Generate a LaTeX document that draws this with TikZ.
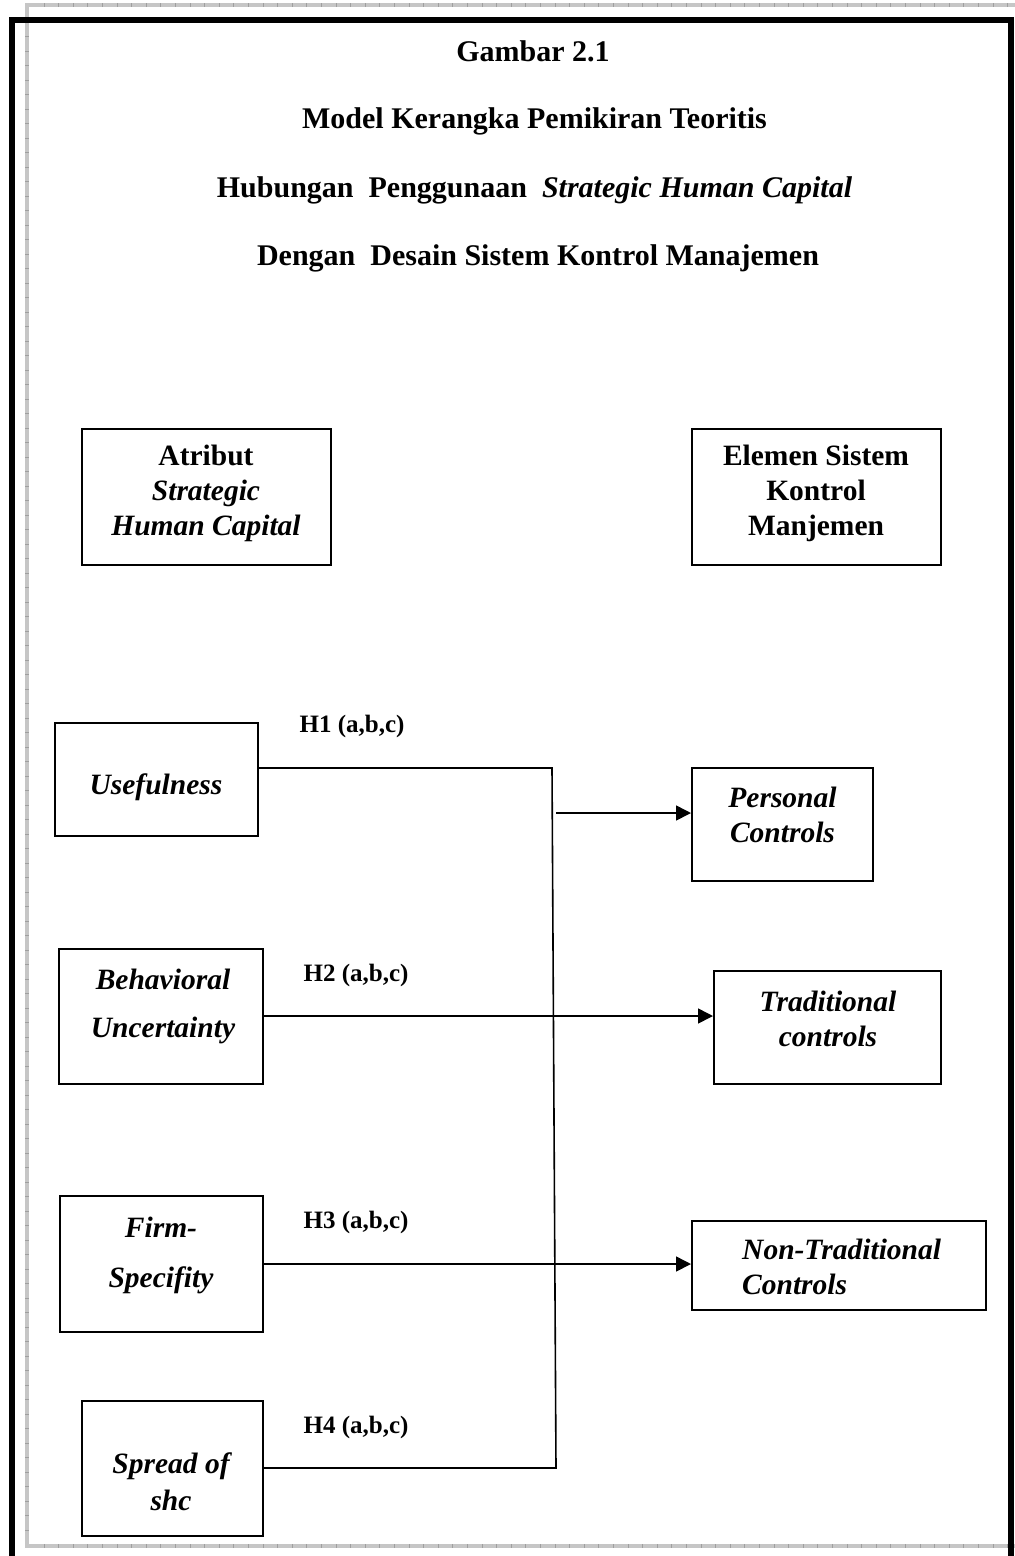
\documentclass[tikz,border=0pt]{standalone}
\usepackage{fontspec}
\setmainfont{Liberation Serif}
\usetikzlibrary{arrows.meta}
\begin{document}
\begin{tikzpicture}[x=1pt,y=-1pt,
  box/.style={draw, line width=2pt, inner sep=0pt},
  lbl/.style={inner sep=0pt, align=center, font=\fontsize{29.5}{35}\selectfont\bfseries},
  ilbl/.style={lbl, font=\fontsize{29.5}{35}\selectfont\bfseries\itshape},
  hyp/.style={inner sep=0pt, font=\fontsize{25}{30}\selectfont\bfseries},
  ttl/.style={inner sep=0pt, font=\fontsize{30}{36}\selectfont\bfseries},
  link/.style={line width=1.6pt},
  arr/.style={link, -{Triangle[length=15pt,width=15pt]}},
  band/.style={fill=gray!45},
  tick/.style={draw=gray!75, line width=0.8pt}]
\useasboundingbox (0,0) rectangle (1015,1556);

% ruler bands
\fill[band] (27,3) rectangle (1015,7);
\foreach \i in {0,...,66} \draw[tick] (44+14.6*\i,3) -- (44+14.6*\i,7);
\fill[band] (25,3) rectangle (29,1548);
\foreach \i in {0,...,104} \draw[tick] (25,22+14.5*\i) -- (29,22+14.5*\i);
\fill[band] (27,1544) rectangle (1015,1548);
\foreach \i in {0,...,66} \draw[tick] (44+14.6*\i,1544) -- (44+14.6*\i,1548);

% outer frame
\draw[line width=6pt, line join=miter] (12,1560) -- (12,20) -- (1010.5,20) -- (1010.5,1560);

% headings
\node[ttl] (t1) at (533,51) {Gambar 2.1};
\node[ttl] (t2) at (534.5,121) {Model Kerangka Pemikiran Teoritis};
\node[ttl] (t3) at (534.5,190) {Hubungan\ \ Penggunaan\ \ \textit{Strategic Human Capital}};
\node[ttl] (t4) at (538,258) {Dengan\ \ Desain Sistem Kontrol Manajemen};

% group headers
\node[box, minimum width=249pt, minimum height=136pt] (atr) at (206.5,497) {};
\node[lbl] (atr-t) at (206,493.5) {Atribut\\\textit{Strategic}\\\textit{Human Capital}};
\node[box, minimum width=249pt, minimum height=136pt] (elm) at (816.5,497) {};
\node[lbl] (elm-t) at (816,493.5) {Elemen Sistem\\Kontrol\\Manjemen};

% attributes
\node[box, minimum width=203pt, minimum height=113pt] (use) at (156.5,779.5) {};
\node[ilbl] (use-t) at (156,787) {Usefulness};
\node[box, minimum width=204pt, minimum height=135pt] (beh) at (161,1016.5) {};
\node[ilbl, font=\fontsize{29.5}{48}\selectfont\bfseries\itshape] (beh-t) at (163,1006) {Behavioral\\Uncertainty};
\node[box, minimum width=203pt, minimum height=136pt] (firm) at (161.5,1264) {};
\node[ilbl, font=\fontsize{29.5}{50}\selectfont\bfseries\itshape] (firm-t) at (161,1255) {Firm-\\Specifity};
\node[box, minimum width=181pt, minimum height=135pt] (spr) at (172.5,1468.5) {};
\node[ilbl, font=\fontsize{29.5}{37}\selectfont\bfseries\itshape] (spr-t) at (171,1481.5) {Spread of\\shc};

% control elements
\node[box, minimum width=181pt, minimum height=113pt] (pers) at (782.5,824.5) {};
\node[ilbl] (pers-t) at (782.5,815) {Personal\\Controls};
\node[box, minimum width=227pt, minimum height=113pt] (trad) at (827.5,1027.5) {};
\node[ilbl] (trad-t) at (828,1018.5) {Traditional\\controls};
\node[box, minimum width=294pt, minimum height=89pt] (nt) at (839,1265.5) {};
\node[ilbl, align=left, anchor=west] (nt-t) at (742,1267) {Non-Traditional\\Controls};

% hypothesis labels
\node[hyp] (h1) at (352,726) {H1 (a,b,c)};
\node[hyp] (h2) at (356,975) {H2 (a,b,c)};
\node[hyp] (h3) at (356,1222) {H3 (a,b,c)};
\node[hyp] (h4) at (356,1427) {H4 (a,b,c)};

% connectors
\coordinate (j1) at (552,768);
\coordinate (j4) at (556,1468);
\coordinate (p0) at (556,813);
\coordinate (t0) at (0,1016);
\draw[link] (use.east |- j1) -- (j1) -- (j4) -- (spr.east |- j4);
\draw[arr] (p0) -- (pers.west |- p0);
\draw[arr] (beh.east |- t0) -- (trad.west |- t0);
\draw[arr] (firm.east) -- (nt.west |- firm.east);
\end{tikzpicture}
\end{document}
